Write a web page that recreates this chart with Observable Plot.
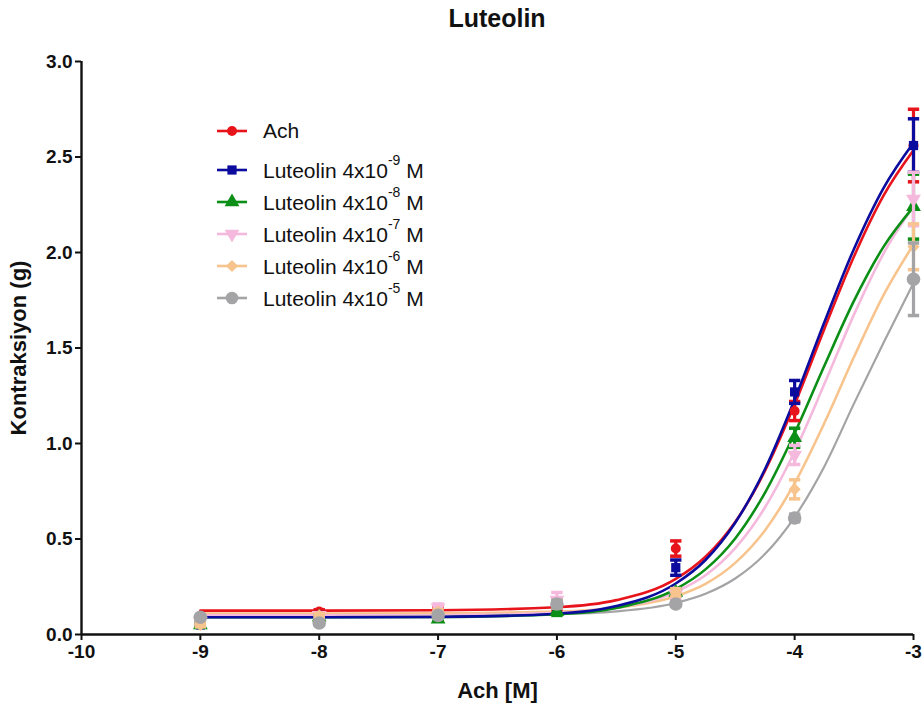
<!DOCTYPE html>
<html><head><meta charset="utf-8">
<script src="https://cdn.jsdelivr.net/npm/d3@7"></script>
<script src="https://cdn.jsdelivr.net/npm/@observablehq/plot@0.6"></script>
<style>
body{margin:0;background:#fff;font-family:"Liberation Sans",Arial,sans-serif;}
#wrap{position:relative;width:923px;height:706px;}
#title{position:absolute;left:0;top:3px;width:994px;text-align:center;font-weight:bold;font-size:25px;line-height:30px;color:#111;}
#legend{position:absolute;left:215px;top:115px;font-size:21px;color:#111;}
.row{display:flex;align-items:center;height:32px;}
.row svg{margin-right:14px;}
.row sup{font-size:14px;position:relative;top:-5px;}
</style></head><body>
<div id="wrap"><div id="chart"></div><div id="title">Luteolin</div><div id="legend"></div></div>
<script>
// ---- data ----
const doses = [-9, -8, -7, -6, -5, -4, -3];
const xTicks = [-10, -9, -8, -7, -6, -5, -4, -3];
const yTicks = [0, 0.5, 1, 1.5, 2, 2.5, 3];
const seriesNames = ["Ach", "Luteolin 4x10-9 M", "Luteolin 4x10-8 M", "Luteolin 4x10-7 M", "Luteolin 4x10-6 M", "Luteolin 4x10-5 M"];
const legendBase = ["Ach", "Luteolin 4x10", "Luteolin 4x10", "Luteolin 4x10", "Luteolin 4x10", "Luteolin 4x10"];
const legendExp = ["", "-9", "-8", "-7", "-6", "-5"];
const legendSuffix = ["", " M", " M", " M", " M", " M"];

const meanAch = [0.08, 0.12, 0.13, 0.15, 0.45, 1.17, 2.56];
const meanL9  = [0.05, 0.10, 0.11, 0.13, 0.35, 1.27, 2.56];
const meanL8  = [0.05, 0.09, 0.08, 0.12, 0.22, 1.03, 2.24];
const meanL7  = [0.07, 0.10, 0.14, 0.18, 0.21, 0.94, 2.28];
const meanL6  = [0.05, 0.10, 0.12, 0.16, 0.22, 0.76, 2.03];
const meanL5  = [0.09, 0.06, 0.10, 0.16, 0.16, 0.61, 1.86];

const semAch = [0.01, 0.01, 0.01, 0.02, 0.04, 0.05, 0.19];
const semL9  = [0.01, 0.01, 0.01, 0.02, 0.04, 0.06, 0.14];
const semL8  = [0.01, 0.01, 0.01, 0.02, 0.02, 0.05, 0.17];
const semL7  = [0.01, 0.01, 0.02, 0.04, 0.02, 0.05, 0.14];
const semL6  = [0.01, 0.01, 0.01, 0.02, 0.02, 0.05, 0.12];
const semL5  = [0.01, 0.01, 0.01, 0.02, 0.01, 0.02, 0.19];

// fitted curves
const curveX   = [-9, -8, -7, -6, -5.5, -5, -4.75, -4.5, -4.25, -4, -3.75, -3.5, -3.25, -3];
const curveAch = [0.125, 0.125, 0.127, 0.143, 0.18, 0.291, 0.407, 0.589, 0.856, 1.205, 1.60, 1.98, 2.30, 2.535];
const curveL9  = [0.09, 0.09, 0.092, 0.109, 0.149, 0.267, 0.39, 0.585, 0.865, 1.23, 1.635, 2.02, 2.34, 2.575];
const curveL8  = [0.09, 0.09, 0.092, 0.106, 0.139, 0.238, 0.341, 0.503, 0.742, 1.054, 1.407, 1.748, 2.032, 2.239];
const curveL7  = [0.10, 0.10, 0.101, 0.113, 0.14, 0.223, 0.31, 0.452, 0.665, 0.958, 1.311, 1.676, 1.997, 2.243];
const curveL6  = [0.11, 0.11, 0.111, 0.12, 0.14, 0.20, 0.265, 0.375, 0.545, 0.792, 1.107, 1.454, 1.779, 2.042];
const curveL5  = [0.10, 0.10, 0.101, 0.107, 0.121, 0.165, 0.213, 0.293, 0.421, 0.615, 0.88, 1.21, 1.53, 1.84];

// ---- styles ----
const colors = ["#e8141c", "#0b0b9e", "#0c8f16", "#f5b9dd", "#f8c48e", "#a4a4a6"];
const triDown = {draw(ctx, size){ const s3 = Math.sqrt(3); const y = -Math.sqrt(size / (s3 * 3)); ctx.moveTo(0, -y * 2); ctx.lineTo(-s3 * y, y); ctx.lineTo(s3 * y, y); ctx.closePath(); }};
const capSym = {draw(ctx, size){ const w = Math.sqrt(size) * 0.8; ctx.moveTo(-w, 0); ctx.lineTo(w, 0); }};
const symbols = [d3.symbolCircle, d3.symbolSquare, d3.symbolTriangle, triDown, d3.symbolDiamond2, d3.symbolCircle];
const radii = [5, 5.2, 5.5, 5.5, 5.5, 6.8];

const means = [meanAch, meanL9, meanL8, meanL7, meanL6, meanL5];
const sems = [semAch, semL9, semL8, semL7, semL6, semL5];
const curves = [curveAch, curveL9, curveL8, curveL7, curveL6, curveL5];

const lineOrder = [5, 4, 3, 2, 0, 1];
const lineMarks = lineOrder.map(i => Plot.line(curveX.map((x, k) => ({x, y: curves[i][k]})),
  {x: "x", y: "y", stroke: colors[i], strokeWidth: i === 5 ? 2.2 : 2.6, curve: "monotone-x"}));

const pointMarks = [];
[0, 1, 2, 3, 4, 5].forEach(i => {
  const rows = doses.map((x, j) => ({x, y: means[i][j], lo: means[i][j] - sems[i][j], hi: means[i][j] + sems[i][j]}));
  pointMarks.push(Plot.ruleX(rows, {x: "x", y1: "lo", y2: "hi", stroke: colors[i], strokeWidth: 3.2}));
  pointMarks.push(Plot.dot(rows, {x: "x", y: "hi", symbol: capSym, r: 4, stroke: colors[i], strokeWidth: 3.5}));
  pointMarks.push(Plot.dot(rows, {x: "x", y: "lo", symbol: capSym, r: 4, stroke: colors[i], strokeWidth: 3.5}));
  pointMarks.push(Plot.dot(rows, {x: "x", y: "y", symbol: symbols[i], r: radii[i], fill: colors[i], stroke: "none"}));
});

const chart = Plot.plot({
  width: 923, height: 706,
  marginTop: 61, marginBottom: 72, marginLeft: 81, marginRight: 10,
  x: {domain: [-10, -3]},
  y: {domain: [0, 3]},
  style: {fontFamily: "'Liberation Sans', Arial, sans-serif", background: "white", color: "#111", overflow: "visible"},
  marks: [
    ...lineMarks,
    ...pointMarks,
    Plot.axisX({ticks: xTicks, tickFormat: d => String(d), tickSize: 6, tickPadding: 4, strokeWidth: 2, fontSize: 19, fontWeight: "bold", label: null}),
    Plot.axisY({ticks: yTicks, tickFormat: d3.format(".1f"), tickSize: 6, tickPadding: 3, strokeWidth: 2, fontSize: 19, fontWeight: "bold", label: null}),
    Plot.ruleX([-10], {stroke: "#111", strokeWidth: 2.4}),
    Plot.ruleY([0], {stroke: "#111", strokeWidth: 2.4}),
    Plot.text(["Ach [M]"], {text: d => d, frameAnchor: "bottom", dy: 56, textAnchor: "middle", lineAnchor: "middle", fontSize: 22, fontWeight: "bold", fill: "#111"}),
    Plot.text(["Kontraksiyon (g)"], {text: d => d, frameAnchor: "left", dx: -63, rotate: -90, textAnchor: "middle", lineAnchor: "middle", fontSize: 22, fontWeight: "bold", fill: "#111"})
  ]
});
document.getElementById("chart").appendChild(chart);

// ---- legend ----
const legend = document.getElementById("legend");
seriesNames.forEach((name, i) => {
  const row = document.createElement("div");
  row.className = "row";
  if (i === 1) row.style.marginTop = "7px";
  const path = d3.symbol(symbols[i], Math.PI * radii[i] * radii[i] * (i === 5 ? 0.85 : 1))();
  row.innerHTML = `<svg width="34" height="20"><line x1="2" y1="10" x2="32" y2="10" stroke="${colors[i]}" stroke-width="2.6"/><path d="${path}" transform="translate(17,10)" fill="${colors[i]}"/></svg>` +
    `<span>${legendBase[i]}${legendExp[i] ? `<sup>${legendExp[i]}</sup>` : ""}${legendSuffix[i]}</span>`;
  row.title = name;
  legend.appendChild(row);
});
</script>
</body></html>
